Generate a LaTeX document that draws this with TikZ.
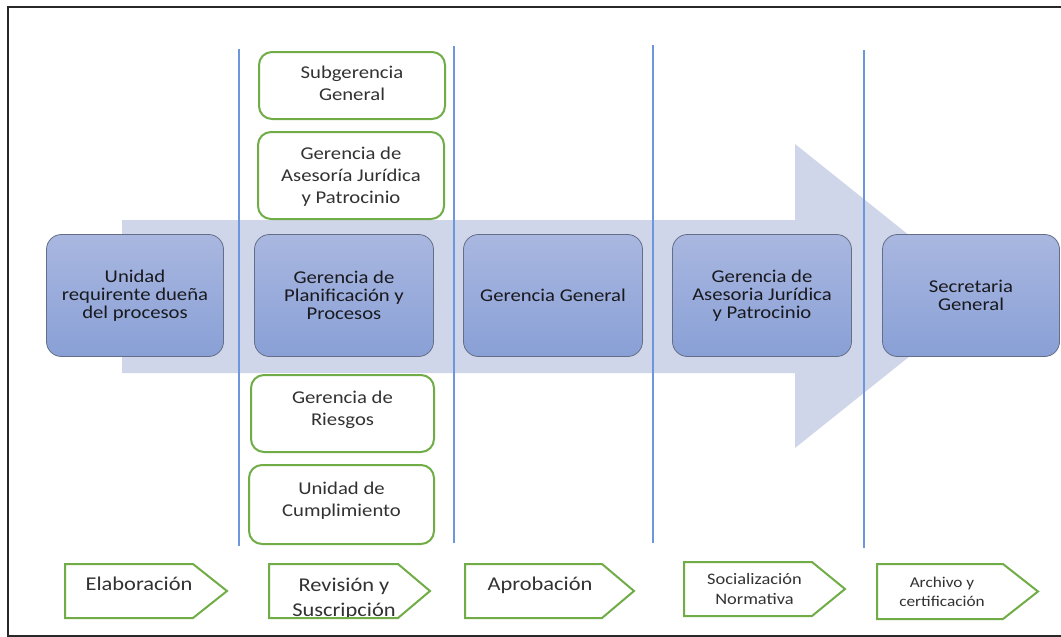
\documentclass[tikz,border=0pt]{standalone}
\usepackage{fontspec}
\setmainfont{Carlito}[FakeStretch=1.15]
\definecolor{arrowfill}{RGB}{208,214,234}
\definecolor{bluetop}{RGB}{169,183,224}
\definecolor{bluebot}{RGB}{137,160,214}
\definecolor{boxedge}{RGB}{100,110,135}
\definecolor{grn}{RGB}{112,173,71}
\definecolor{vblue}{RGB}{110,150,220}
\definecolor{frame}{RGB}{40,40,40}
\definecolor{txt}{RGB}{25,25,30}
\definecolor{txtg}{RGB}{50,50,50}
\begin{document}
\begin{tikzpicture}[x=1pt,y=-1pt,
  bluebox/.style={draw=boxedge, line width=0.8pt, rounded corners=15pt, top color=bluetop, bottom color=bluebot, minimum height=122pt, inner sep=0pt},
  greenbox/.style={draw=grn, line width=2pt, rounded corners=13pt, fill=white, inner sep=0pt},
  vline/.style={draw=vblue, line width=1.4pt},
  pentagon/.style={draw=grn, line width=2pt, fill=white, line join=miter},
  btext/.style={font=\fontsize{18}{18}\selectfont, align=center, text=txt, inner sep=0pt},
  gtext/.style={font=\fontsize{18}{22}\selectfont, align=center, text=txtg, inner sep=0pt},
  ptext/.style={font=\fontsize{19.5}{25}\selectfont, align=center, text=txtg, inner sep=0pt},
]
\useasboundingbox (0,0) rectangle (1061,637);
\fill[white] (0,0) rectangle (1061,637);
% frame
\draw[frame, line width=2pt] (8,7) rectangle (1075,635.5);
% big arrow
\fill[arrowfill] (122,220) -- (795,220) -- (795,144) -- (985,296) -- (795,448) -- (795,373) -- (122,373) -- cycle;
% vertical separators
\draw[vline] (239,49) -- (239,546);
\draw[vline] (454,46) -- (454,543);
\draw[vline] (653,45) -- (653,543);
\draw[vline] (864,50) -- (864,548);
% blue process boxes
\node[bluebox, minimum width=177pt] (b1) at (135,295.5) {};
\node[btext] (t1) at (b1.center) {Unidad\\requirente dueña\\del procesos};
\node[bluebox, minimum width=179pt] (b2) at (344,295.5) {};
\node[btext] (t2) at (b2.center) {Gerencia de\\Planificación y\\Procesos};
\node[bluebox, minimum width=179pt] (b3) at (553,295.5) {};
\node[btext] (t3) at (b3.center) {Gerencia General};
\node[bluebox, minimum width=179pt] (b4) at (762,295.5) {};
\node[btext] (t4) at (b4.center) {Gerencia de\\Asesoria Jurídica\\y Patrocinio};
\node[bluebox, minimum width=177pt] (b5) at (971,295.5) {};
\node[btext] (t5) at (b5.center) {Secretaria\\General};
% green boxes
\node[greenbox, minimum width=186pt, minimum height=67pt] (g1) at (352,85.5) {};
\node[gtext] (gt1) at ([yshift=2.5pt]g1.center) {Subgerencia\\General};
\node[greenbox, minimum width=186pt, minimum height=87pt] (g2) at (351,175.5) {};
\node[gtext] (gt2) at ([yshift=-1pt]g2.center) {Gerencia de\\Asesoría Jurídica\\y Patrocinio};
\node[greenbox, minimum width=183pt, minimum height=77pt] (g3) at (342.5,413.5) {};
\node[gtext] (gt3) at ([yshift=4pt]g3.center) {Gerencia de\\Riesgos};
\node[greenbox, minimum width=185pt, minimum height=79pt] (g4) at (341.5,504.5) {};
\node[gtext] (gt4) at ([yshift=4pt]g4.center) {Unidad de\\Cumplimiento};
% bottom stage arrows
\draw[pentagon] (65,564) -- (193,564) -- (227,591) -- (193,618) -- (65,618) -- cycle;
\node[ptext, anchor=base] (s1) at (139,590) {Elaboración};
\fill[white] (269,564) -- (398,564) -- (430,591) -- (398,618) -- (269,618) -- cycle;
\begin{scope}
\clip (269,564) -- (398,564) -- (430,591) -- (398,616) -- (269,616) -- cycle;
\node[ptext] (s2) at (344,598.5) {Revisión y\\Suscripción};
\end{scope}
\draw[pentagon, fill=none] (269,564) -- (398,564) -- (430,591) -- (398,618) -- (269,618) -- cycle;
\draw[pentagon] (465,564) -- (602,564) -- (634,591) -- (602,618) -- (465,618) -- cycle;
\node[ptext, anchor=base] (s3) at (540,590.5) {Aprobación};
\draw[pentagon] (684,562) -- (812,562) -- (845,589) -- (812,616) -- (684,616) -- cycle;
\node[ptext, font=\fontsize{16}{20}\selectfont] (s4) at (754.5,589) {Socialización\\Normativa};
\draw[pentagon] (877,564) -- (1003,564) -- (1038,591.5) -- (1003,619) -- (877,619) -- cycle;
\node[ptext, font=\fontsize{15}{19}\selectfont] (s5) at (942,592) {Archivo y\\certificación};
\end{tikzpicture}
\end{document}
